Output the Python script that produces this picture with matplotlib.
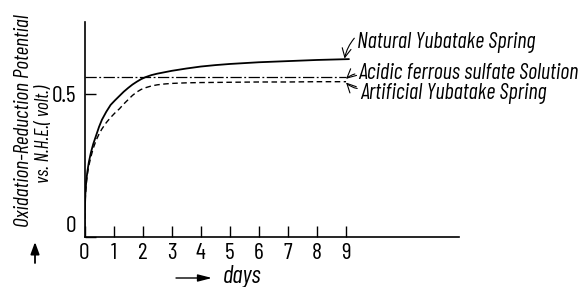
import matplotlib
matplotlib.use("Agg")
import matplotlib.pyplot as plt
from matplotlib.patches import FancyArrowPatch

# Data
natural_days = [0, 0.01, 0.03, 0.06, 0.1, 0.15, 0.22, 0.3, 0.4, 0.5, 0.6, 0.75, 0.9, 1.05, 1.2, 1.35, 1.5, 1.65, 1.8, 1.95, 2.1, 2.3, 2.5, 2.75, 3.0, 3.5, 4.0, 4.5, 5.0, 6.0, 7.0, 8.0, 9.1]
natural_v = [0.0, 0.09, 0.15, 0.195, 0.23, 0.262, 0.295, 0.325, 0.355, 0.385, 0.41, 0.438, 0.462, 0.478, 0.493, 0.508, 0.521, 0.533, 0.543, 0.552, 0.559, 0.566, 0.571, 0.576, 0.581, 0.589, 0.596, 0.601, 0.605, 0.611, 0.615, 0.619, 0.622]

artificial_days = [0, 0.01, 0.03, 0.06, 0.1, 0.15, 0.22, 0.3, 0.4, 0.5, 0.6, 0.75, 0.9, 1.05, 1.2, 1.35, 1.5, 1.65, 1.8, 1.95, 2.1, 2.3, 2.5, 2.75, 3.0, 3.5, 4.0, 5.0, 6.0, 7.0, 8.0, 9.0]
artificial_v = [0.0, 0.08, 0.14, 0.185, 0.22, 0.25, 0.28, 0.31, 0.338, 0.36, 0.378, 0.4, 0.418, 0.434, 0.448, 0.465, 0.48, 0.495, 0.507, 0.516, 0.522, 0.528, 0.532, 0.535, 0.537, 0.539, 0.54, 0.541, 0.542, 0.542, 0.543, 0.543]

acidic_days = [0, 9.0]
acidic_v = [0.56, 0.56]

x_ticks = [0, 1, 2, 3, 4, 5, 6, 7, 8, 9]
y_ticks = [0, 0.5]
y_tick_labels = ["0", "0.5"]

labels = ["Natural Yubatake Spring", "Acidic ferrous sulfate Solution", "Artificial Yubatake Spring"]

FONT = ["Barlow Condensed", "Archivo Narrow", "DejaVu Sans"]
plt.rcParams['font.family'] = FONT

fig = plt.figure(figsize=(5.79, 2.87), dpi=100)
W, H = 579, 287
x0, x1 = 84.5, 459
ytop, ybot = 22, 237
ax = fig.add_axes([x0 / W, (H - ybot) / H, (x1 - x0) / W, (ybot - ytop) / H])

ax.plot(natural_days, natural_v, color='black', lw=1.3, solid_capstyle='round')
ax.plot(artificial_days, artificial_v, color='black', lw=1.0, ls=(0, (4, 2.5)))
ax.plot(acidic_days, acidic_v, color='black', lw=0.9, ls=(0, (9, 2, 1.5, 2)))

ax.set_xlim(0, (x1 - x0) / 29.06)
ax.set_ylim(0, (ybot - ytop) / 286)
ax.spines['top'].set_visible(False)
ax.spines['right'].set_visible(False)
ax.spines['left'].set_linewidth(1.2)
ax.spines['bottom'].set_linewidth(1.2)
ax.set_xticks(x_ticks)
ax.set_xticklabels([str(t) for t in x_ticks])
ax.set_yticks(y_ticks)
ax.set_yticklabels(y_tick_labels)
ax.tick_params(axis='both', direction='in', length=8, width=1, labelsize=17)
ax.tick_params(axis='x', pad=4)
ax.tick_params(axis='y', pad=6)
ax.get_yticklabels()[0].set_verticalalignment('bottom')

tfs = 16
ax.annotate(labels[0], xy=(8.95, 0.624), xytext=(9.38, 0.68), fontsize=tfs, style='italic',
            va='center', ha='left',
            arrowprops=dict(arrowstyle='->', color='black', lw=0.8, connectionstyle='arc3,rad=0.15',
                            shrinkA=0, shrinkB=0, relpos=(0.0, 0.85)))
ax.annotate(labels[1], xy=(9.0, 0.553), xytext=(9.4, 0.572), fontsize=tfs, style='italic',
            va='center', ha='left',
            arrowprops=dict(arrowstyle='->', color='black', lw=0.8, connectionstyle='arc3,rad=0.15',
                            shrinkA=0, shrinkB=0, relpos=(0.0, 0.5)))
ax.annotate(labels[2], xy=(9.0, 0.54), xytext=(9.48, 0.5), fontsize=tfs, style='italic',
            va='center', ha='left',
            arrowprops=dict(arrowstyle='->', color='black', lw=0.8, connectionstyle='arc3,rad=-0.2',
                            shrinkA=0, shrinkB=0, relpos=(0.0, 0.75)))

# y label
fig.text(24 / W, 1 - 121 / H, "Oxidation-Reduction Potential", rotation=90, fontsize=15.5,
         style='italic', ha='center', va='center')
fig.text(44 / W, 1 - 134 / H, "vs. N.H.E.( volt.)", rotation=90, fontsize=14,
         style='italic', ha='center', va='center')

# arrows
fig.add_artist(FancyArrowPatch((35 / W, 1 - 263 / H), (35 / W, 1 - 242 / H),
               transform=fig.transFigure, arrowstyle='-|>,head_length=0.6,head_width=0.22',
               mutation_scale=12, color='black', lw=1.3, shrinkA=0, shrinkB=0))
fig.add_artist(FancyArrowPatch((176 / W, 1 - 278 / H), (212 / W, 1 - 278 / H),
               transform=fig.transFigure, arrowstyle='-|>,head_length=0.7,head_width=0.18',
               mutation_scale=12, color='black', lw=1.0, shrinkA=0, shrinkB=0))
fig.text(223 / W, 1 - 276 / H, "days", fontsize=18, style='italic', ha='left', va='center')

fig.savefig("out.png", dpi=100)
